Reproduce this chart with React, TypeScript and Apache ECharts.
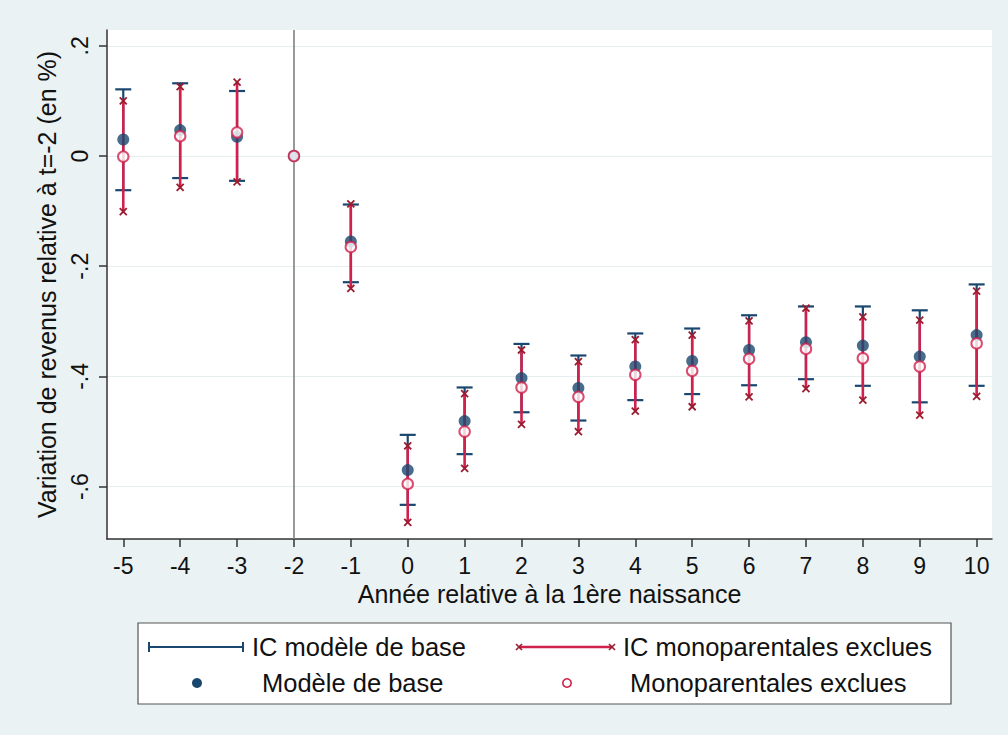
import React, { useEffect, useRef } from "react";
import * as echarts from "echarts";

const years = [-5, -4, -3, -2, -1, 0, 1, 2, 3, 4, 5, 6, 7, 8, 9, 10];
const baseEst = [0.030, 0.047, 0.035, 0, -0.155, -0.570, -0.481, -0.403, -0.421, -0.382, -0.372, -0.352, -0.338, -0.344, -0.364, -0.325];
const baseLo = [-0.062, -0.040, -0.045, null, -0.229, -0.633, -0.541, -0.465, -0.480, -0.443, -0.432, -0.416, -0.405, -0.417, -0.447, -0.417];
const baseHi = [0.121, 0.132, 0.118, null, -0.088, -0.506, -0.420, -0.341, -0.362, -0.322, -0.313, -0.289, -0.273, -0.273, -0.280, -0.233];
const monoEst = [-0.001, 0.036, 0.043, 0, -0.165, -0.595, -0.500, -0.420, -0.437, -0.397, -0.390, -0.368, -0.350, -0.367, -0.382, -0.340];
const monoLo = [-0.101, -0.057, -0.047, null, -0.240, -0.665, -0.567, -0.487, -0.500, -0.463, -0.455, -0.437, -0.422, -0.443, -0.470, -0.436];
const monoHi = [0.100, 0.126, 0.134, null, -0.087, -0.526, -0.431, -0.352, -0.373, -0.333, -0.325, -0.299, -0.276, -0.292, -0.298, -0.245];
const yTicks = [-0.6, -0.4, -0.2, 0, 0.2];
const xTitle = "Année relative à la 1ère naissance";
const yTitle = "Variation de revenus relative à t=-2 (en %)";
const legendLabels = ["IC modèle de base", "IC monoparentales exclues", "Modèle de base", "Monoparentales exclues"];

const NAVY = "#1a476f";
const CRIMSON = "#d0204c";
const XRED = "#9a1c30";
const FONT = "Liberation Sans";

function fmtY(v: number) {
  if (Math.abs(v) < 1e-9) return "0";
  const s = String(Math.round(v * 10) / 10);
  return s.replace("0.", ".");
}

export default function App() {
  const ref = useRef<HTMLDivElement>(null);
  useEffect(() => {
    if (!ref.current) return;
    const chart = echarts.init(ref.current, undefined, { renderer: "svg" });
    const baseCI = years
      .map((x, i) => [x, baseLo[i], baseHi[i]])
      .filter((d) => d[1] !== null);
    const monoCI = years
      .map((x, i) => [x, monoLo[i], monoHi[i]])
      .filter((d) => d[1] !== null);

    const ciRender = (kind: "base" | "mono") => (params: any, api: any) => {
      const x = api.value(0);
      const lo = api.value(1);
      const hi = api.value(2);
      const p1 = api.coord([x, hi]);
      const p2 = api.coord([x, lo]);
      const children: any[] = [];
      if (kind === "base") {
        const st = { stroke: NAVY, lineWidth: 2.2 };
        const w = 8;
        children.push({ type: "line", shape: { x1: p1[0], y1: p1[1], x2: p2[0], y2: p2[1] }, style: st });
        children.push({ type: "line", shape: { x1: p1[0] - w, y1: p1[1], x2: p1[0] + w, y2: p1[1] }, style: st });
        children.push({ type: "line", shape: { x1: p2[0] - w, y1: p2[1], x2: p2[0] + w, y2: p2[1] }, style: st });
      } else {
        const st = { stroke: CRIMSON, lineWidth: 2.6 };
        const xs = { stroke: XRED, lineWidth: 1.8 };
        const r = 3.5;
        children.push({ type: "line", shape: { x1: p1[0], y1: p1[1], x2: p2[0], y2: p2[1] }, style: st });
        [p1, p2].forEach((p) => {
          children.push({ type: "line", shape: { x1: p[0] - r, y1: p[1] - r, x2: p[0] + r, y2: p[1] + r }, style: xs });
          children.push({ type: "line", shape: { x1: p[0] - r, y1: p[1] + r, x2: p[0] + r, y2: p[1] - r }, style: xs });
        });
      }
      return { type: "group", children };
    };

    const legendX1 = 138, legendY1 = 623, legendW = 813, legendH = 81;
    const row1 = 647, row2 = 683;

    chart.setOption({
      animation: false,
      backgroundColor: "#eaf2f3",
      grid: {
        left: 107,
        top: 30,
        right: 16,
        bottom: 196,
        show: true,
        backgroundColor: "#ffffff",
        borderWidth: 0,
      },
      xAxis: {
        type: "value",
        min: -5.286,
        max: 10.27,
        name: xTitle,
        nameLocation: "middle",
        nameGap: 41,
        nameTextStyle: { fontFamily: FONT, fontSize: 25, color: "#111" },
        axisLine: { show: true, onZero: false, lineStyle: { color: "#333", width: 1.5 } },
        axisTick: { show: true, length: 8, lineStyle: { color: "#333", width: 1.5 }, customValues: years },
        axisLabel: { fontFamily: FONT, fontSize: 23, color: "#111", margin: 15, customValues: years, formatter: (v: number) => String(v) },
        splitLine: { show: false },
      },
      yAxis: {
        type: "value",
        min: -0.695,
        max: 0.2287,
        name: yTitle,
        nameLocation: "middle",
        nameRotate: 90,
        nameGap: 48,
        nameTextStyle: { fontFamily: FONT, fontSize: 25, color: "#111" },
        axisLine: { show: true, onZero: false, lineStyle: { color: "#333", width: 1.5 } },
        axisTick: { show: true, length: 8, lineStyle: { color: "#333", width: 1.5 }, customValues: yTicks },
        axisLabel: { fontFamily: FONT, fontSize: 23, color: "#111", rotate: 90, margin: 16, customValues: yTicks, formatter: fmtY },
        splitLine: { show: true, lineStyle: { color: "#e6eef0", width: 1.2 } },
      },
      series: [
        {
          type: "custom",
          name: legendLabels[0],
          renderItem: ciRender("base"),
          encode: { x: 0, y: [1, 2] },
          data: baseCI,
          z: 2,
          markLine: {
            silent: true,
            symbol: ["none", "none"],
            label: { show: false },
            lineStyle: { color: "#808080", width: 1.6, type: "solid" },
            data: [{ xAxis: -2 }],
          },
        },
        {
          type: "custom",
          name: legendLabels[1],
          renderItem: ciRender("mono"),
          encode: { x: 0, y: [1, 2] },
          data: monoCI,
          z: 3,
        },
        {
          type: "scatter",
          name: legendLabels[2],
          data: years.map((x, i) => [x, baseEst[i]]),
          symbol: "circle",
          symbolSize: 12,
          itemStyle: { color: NAVY },
          z: 4,
        },
        {
          type: "scatter",
          name: legendLabels[3],
          data: years.map((x, i) => [x, monoEst[i]]),
          symbol: "circle",
          symbolSize: 10.5,
          itemStyle: { color: "#ffffff", borderColor: CRIMSON, borderWidth: 2 },
          z: 5,
        },
      ],
      graphic: [
        {
          type: "rect",
          shape: { x: legendX1, y: legendY1, width: legendW, height: legendH },
          style: { fill: "#ffffff", stroke: "#555", lineWidth: 1.2 },
        },
        { type: "line", shape: { x1: 149, y1: row1, x2: 243, y2: row1 }, style: { stroke: NAVY, lineWidth: 2 } },
        { type: "line", shape: { x1: 149, y1: row1 - 5, x2: 149, y2: row1 + 5 }, style: { stroke: NAVY, lineWidth: 2 } },
        { type: "line", shape: { x1: 243, y1: row1 - 5, x2: 243, y2: row1 + 5 }, style: { stroke: NAVY, lineWidth: 2 } },
        { type: "text", x: 252, y: row1, style: { text: legendLabels[0], fontFamily: FONT, fontSize: 25.5, fill: "#111", textVerticalAlign: "middle" } },
        { type: "line", shape: { x1: 519, y1: row1, x2: 612, y2: row1 }, style: { stroke: CRIMSON, lineWidth: 2.4 } },
        { type: "line", shape: { x1: 516, y1: row1 - 3, x2: 522, y2: row1 + 3 }, style: { stroke: XRED, lineWidth: 1.6 } },
        { type: "line", shape: { x1: 516, y1: row1 + 3, x2: 522, y2: row1 - 3 }, style: { stroke: XRED, lineWidth: 1.6 } },
        { type: "line", shape: { x1: 609, y1: row1 - 3, x2: 615, y2: row1 + 3 }, style: { stroke: XRED, lineWidth: 1.6 } },
        { type: "line", shape: { x1: 609, y1: row1 + 3, x2: 615, y2: row1 - 3 }, style: { stroke: XRED, lineWidth: 1.6 } },
        { type: "text", x: 623, y: row1, style: { text: legendLabels[1], fontFamily: FONT, fontSize: 25.5, fill: "#111", textVerticalAlign: "middle" } },
        { type: "circle", shape: { cx: 197, cy: row2, r: 5 }, style: { fill: NAVY } },
        { type: "text", x: 262, y: row2, style: { text: legendLabels[2], fontFamily: FONT, fontSize: 25.5, fill: "#111", textVerticalAlign: "middle" } },
        { type: "circle", shape: { cx: 567, cy: row2, r: 4.2 }, style: { fill: "#fff", stroke: CRIMSON, lineWidth: 1.6 } },
        { type: "text", x: 630, y: row2, style: { text: legendLabels[3], fontFamily: FONT, fontSize: 25.5, fill: "#111", textVerticalAlign: "middle" } },
      ],
    });
    return () => chart.dispose();
  }, []);
  return (
    <div
      ref={ref}
      style={{ position: "fixed", left: 0, top: 0, width: 1008, height: 735 }}
    />
  );
}
